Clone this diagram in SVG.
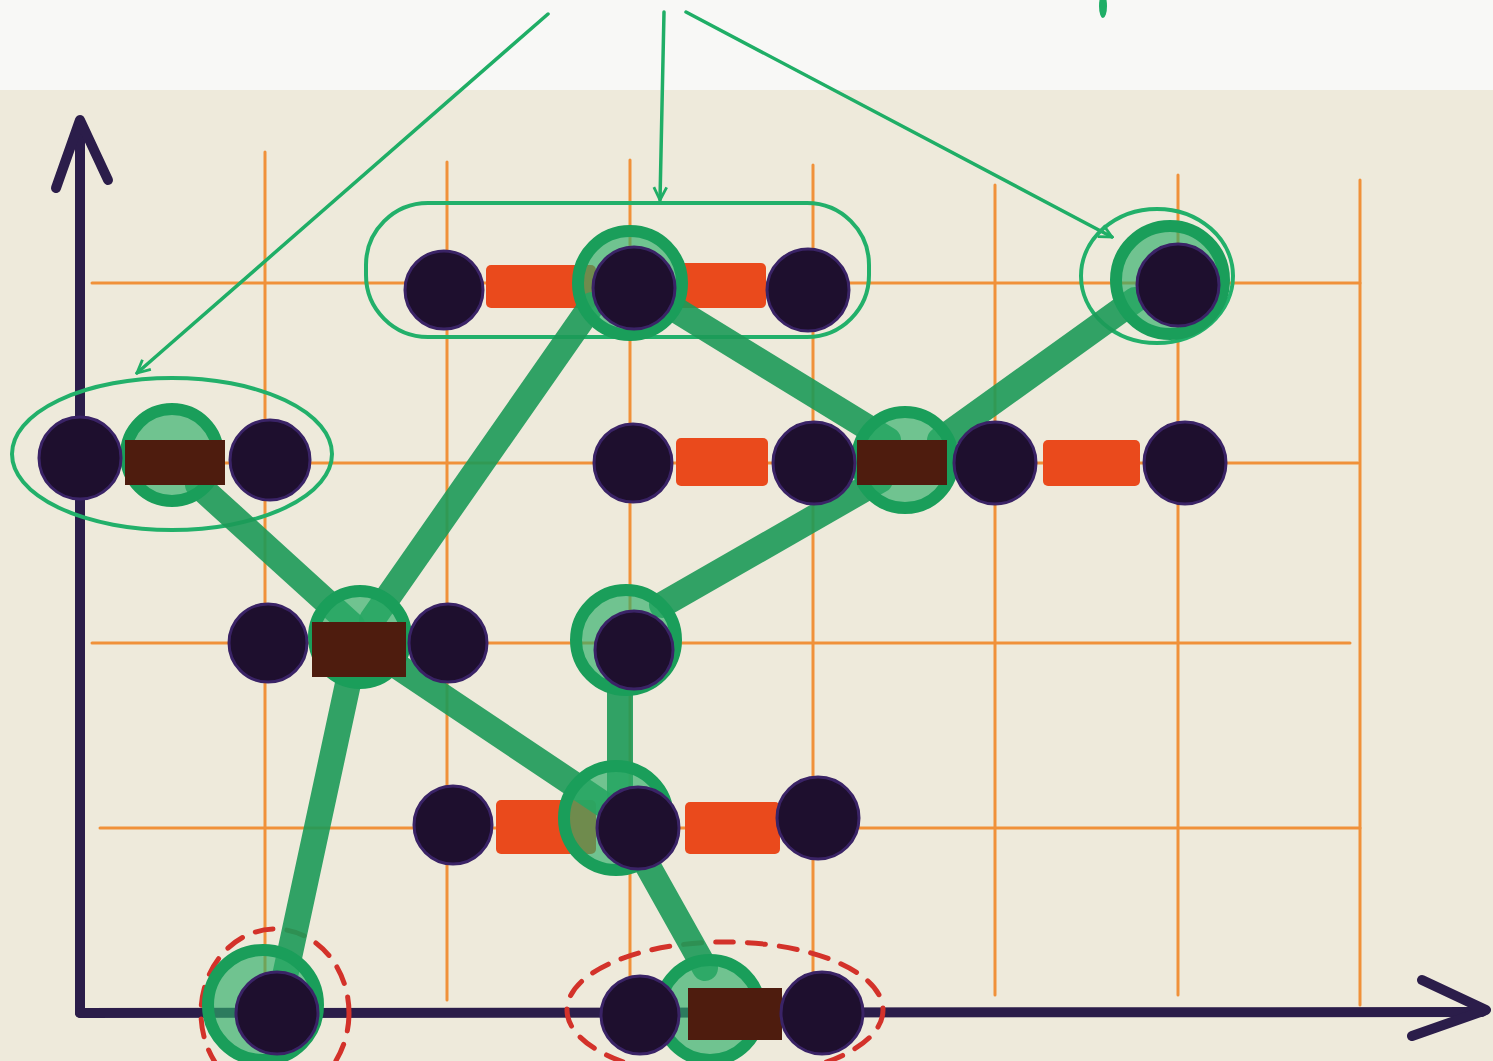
<svg xmlns="http://www.w3.org/2000/svg" width="1493" height="1061" viewBox="0 0 1493 1061">
<defs>
<style>
.grid{stroke:#f0913a;stroke-width:3;fill:none;stroke-linecap:round}
.axis{stroke:#2b1d4a;stroke-width:10;fill:none;stroke-linecap:round;stroke-linejoin:round}
.node{fill:#1e0f2e;stroke:#3a2366;stroke-width:3}
.bond{fill:#ea4a1c}
.dbond{fill:#4e1c0e}
.link{stroke:#1c9a58;stroke-width:26;stroke-linecap:round;fill:none;opacity:0.9}
.ring{stroke:#1a9e5a;stroke-width:12;fill:#2cae68;fill-opacity:0.65}
.hull{stroke:#22b06a;stroke-width:4;fill:none}
.dash{stroke:#d3322a;stroke-width:5;fill:none;stroke-dasharray:18 14;stroke-linecap:round}
.ann{stroke:#1fae66;stroke-width:3.5;fill:none;stroke-linecap:round}
</style>
<marker id="ah" viewBox="0 0 20 20" refX="18" refY="10" markerWidth="16" markerHeight="16" orient="auto" markerUnits="userSpaceOnUse">
<path d="M2 2 L18 10 L2 18" fill="none" stroke="#1fae66" stroke-width="3.5"/>
</marker>
</defs>
<rect x="0" y="0" width="1493" height="1061" fill="#eeeadb"/>
<rect x="0" y="0" width="1493" height="90" fill="#f8f8f6"/>
<ellipse cx="1103" cy="6" rx="4" ry="12" fill="#1fae66"/>

<g id="grid">
<line class="grid" x1="265" y1="152" x2="265" y2="1000"/>
<line class="grid" x1="447" y1="162" x2="447" y2="1000"/>
<line class="grid" x1="630" y1="160" x2="630" y2="1000"/>
<line class="grid" x1="813" y1="165" x2="813" y2="990"/>
<line class="grid" x1="995" y1="185" x2="995" y2="995"/>
<line class="grid" x1="1178" y1="175" x2="1178" y2="995"/>
<line class="grid" x1="1360" y1="180" x2="1360" y2="1005"/>
<line class="grid" x1="92" y1="283" x2="1360" y2="283"/>
<line class="grid" x1="92" y1="463" x2="1358" y2="463"/>
<line class="grid" x1="92" y1="643" x2="1350" y2="643"/>
<line class="grid" x1="100" y1="828" x2="1360" y2="828"/>
</g>

<g id="axes">
<path class="axis" d="M80 1013 L80 122"/>
<path class="axis" d="M56 188 L80 120 L108 180"/>
<path class="axis" d="M80 1013 L1482 1012"/>
<path class="axis" d="M1422 980 L1486 1010 L1412 1036"/>
</g>

<g id="annotations">
<line class="ann" x1="548" y1="14" x2="137" y2="373" marker-end="url(#ah)"/>
<line class="ann" x1="664" y1="12" x2="660" y2="200" marker-end="url(#ah)"/>
<line class="ann" x1="686" y1="12" x2="1112" y2="237" marker-end="url(#ah)"/>
</g>

<g id="groupings">
<ellipse class="hull" cx="172" cy="454" rx="160" ry="76"/>
<rect class="hull" x="366" y="203" width="503" height="134" rx="62"/>
<ellipse class="hull" cx="1157" cy="276" rx="76" ry="67"/>
<ellipse class="dash" cx="275" cy="1013" rx="74" ry="84"/>
<ellipse class="dash" cx="725" cy="1010" rx="158" ry="68"/>
</g>

<g id="red-bonds">
<rect class="bond" x="486" y="265" width="110" height="43" rx="5"/>
<rect class="bond" x="676" y="263" width="90" height="45" rx="5"/>
<rect class="bond" x="676" y="438" width="92" height="48" rx="5"/>
<rect class="bond" x="1043" y="440" width="97" height="46" rx="5"/>
<rect class="bond" x="496" y="800" width="100" height="54" rx="5"/>
<rect class="bond" x="685" y="802" width="95" height="52" rx="5"/>
</g>

<g id="connectors">
<line class="link" x1="198" y1="485" x2="352" y2="625"/>
<line class="link" x1="372" y1="620" x2="592" y2="305"/>
<line class="link" x1="352" y1="665" x2="282" y2="990"/>
<line class="link" x1="400" y1="668" x2="612" y2="810"/>
<line class="link" x1="620" y1="690" x2="620" y2="795"/>
<line class="link" x1="662" y1="605" x2="880" y2="480"/>
<line class="link" x1="668" y1="305" x2="888" y2="440"/>
<line class="link" x1="940" y1="440" x2="1135" y2="300"/>
<line class="link" x1="640" y1="852" x2="705" y2="968"/>
</g>

<g id="rings">
<circle class="ring" cx="630" cy="283" r="52"/>
<circle class="ring" cx="172" cy="455" r="46"/>
<circle class="ring" cx="360" cy="637" r="46"/>
<circle class="ring" cx="626" cy="640" r="50"/>
<circle class="ring" cx="905" cy="460" r="48"/>
<circle class="ring" cx="616" cy="818" r="52"/>
<circle class="ring" cx="710" cy="1010" r="50"/>
<circle class="ring" cx="263" cy="1005" r="55"/>
<circle class="ring" cx="1170" cy="280" r="54"/>
</g>

<g id="dark-bonds">
<rect class="dbond" x="125" y="440" width="100" height="45"/>
<rect class="dbond" x="857" y="440" width="90" height="45"/>
<rect class="dbond" x="312" y="622" width="94" height="55"/>
<rect class="dbond" x="688" y="988" width="94" height="52"/>
</g>

<g id="node-r1-1"><circle class="node" cx="444" cy="290" r="39"/></g>
<g id="node-r1-2"><circle class="node" cx="634" cy="288" r="41"/></g>
<g id="node-r1-3"><circle class="node" cx="808" cy="290" r="41"/></g>
<g id="node-r1-4"><circle class="node" cx="1178" cy="285" r="41"/></g>
<g id="node-r2-1"><circle class="node" cx="80" cy="458" r="41"/></g>
<g id="node-r2-2"><circle class="node" cx="270" cy="460" r="40"/></g>
<g id="node-r2-3"><circle class="node" cx="633" cy="463" r="39"/></g>
<g id="node-r2-4"><circle class="node" cx="814" cy="463" r="41"/></g>
<g id="node-r2-5"><circle class="node" cx="995" cy="463" r="41"/></g>
<g id="node-r2-6"><circle class="node" cx="1185" cy="463" r="41"/></g>
<g id="node-r3-1"><circle class="node" cx="268" cy="643" r="39"/></g>
<g id="node-r3-2"><circle class="node" cx="448" cy="643" r="39"/></g>
<g id="node-r3-3"><circle class="node" cx="634" cy="650" r="39"/></g>
<g id="node-r4-1"><circle class="node" cx="453" cy="825" r="39"/></g>
<g id="node-r4-2"><circle class="node" cx="638" cy="828" r="41"/></g>
<g id="node-r4-3"><circle class="node" cx="818" cy="818" r="41"/></g>
<g id="node-r5-1"><circle class="node" cx="277" cy="1013" r="41"/></g>
<g id="node-r5-2"><circle class="node" cx="640" cy="1015" r="39"/></g>
<g id="node-r5-3"><circle class="node" cx="822" cy="1013" r="41"/></g>
</svg>
